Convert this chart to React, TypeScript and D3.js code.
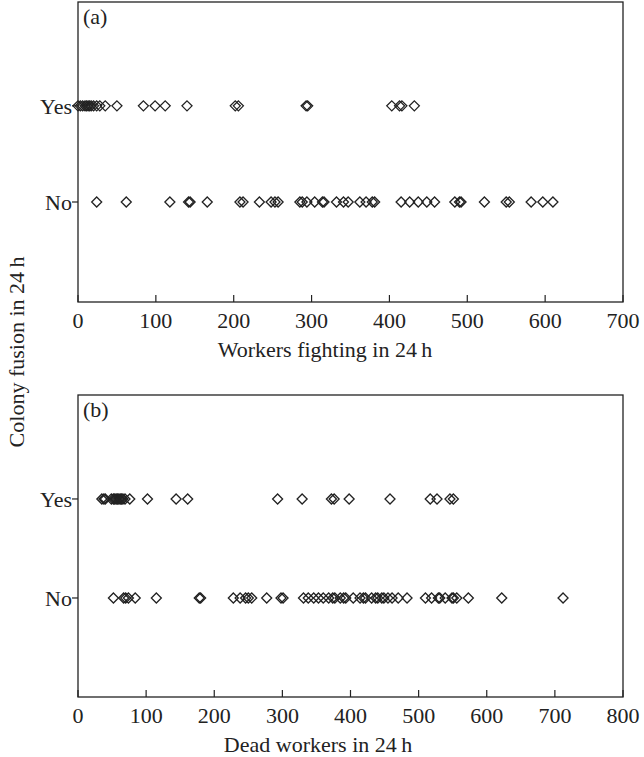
import * as d3 from "d3";
import { useEffect, useRef } from "react";

// (a) workers fighting in 24 h, split by colony fusion
const fightingYes = [0, 3, 6, 9, 11, 13, 15, 17, 20, 24, 28, 35, 50, 84, 99, 112, 140, 202, 206, 293, 295, 403, 413, 416, 432];
const fightingNo = [
  24, 62, 118, 142, 144, 166, 208, 212, 233, 248, 253, 257, 285, 288, 294, 304, 314, 316,
  332, 341, 347, 362, 370, 378, 381, 415, 426, 437, 448, 458, 484, 490, 492, 522, 550, 554,
  582, 597, 610,
];

// (b) dead workers in 24 h
const deadYes = [35, 38, 40, 49, 52, 54, 56, 58, 60, 62, 64, 66, 69, 76, 102, 144, 161, 293, 329, 372, 376, 398, 458, 517, 527, 546, 551];
const deadNo = [
  52, 67, 70, 74, 84, 115, 178, 180, 228, 238, 246, 250, 255, 277, 298, 301, 331, 338, 346,
  353, 360, 368, 374, 377, 385, 390, 393, 404, 414, 419, 422, 431, 437, 440, 446, 449, 455,
  461, 470, 483, 510, 519, 529, 531, 539, 549, 551, 556, 573, 622, 712,
];

const fightingTicks = [0, 100, 200, 300, 400, 500, 600, 700];
const deadTicks = [0, 100, 200, 300, 400, 500, 600, 700, 800];
const rowLabels = ["Yes", "No"];

const W = 644;
const H = 757;
const FONT = "'Liberation Serif', 'Times New Roman', serif";
const FS = 22;
const INK = "#222";

const diamond = "M0,-5L5,0L0,5L-5,0Z";

function drawPanel(svg, o) {
  const x = d3.scaleLinear().domain(o.xDomain).range([o.left, o.right]);
  const y = d3.scaleLinear().domain(o.yDomain).range([o.bottom, o.top]);
  const g = svg.append("g");

  // marks: Yes = 1, No = 0
  const rows = [
    { v: 1, data: o.yes },
    { v: 0, data: o.no },
  ];
  rows.forEach((r) => {
    g.append("g")
      .selectAll("path")
      .data(r.data)
      .enter()
      .append("path")
      .attr("d", diamond)
      .attr("transform", (d) => `translate(${x(d)},${y(r.v)})`)
      .attr("fill", "none")
      .attr("stroke", INK)
      .attr("stroke-width", 1.3);
  });

  // frame
  g.append("rect")
    .attr("x", o.left)
    .attr("y", o.top)
    .attr("width", o.right - o.left)
    .attr("height", o.bottom - o.top)
    .attr("fill", "none")
    .attr("stroke", INK)
    .attr("stroke-width", 1.3);

  // x ticks point inward
  g.selectAll(".xt")
    .data(o.ticks)
    .enter()
    .append("line")
    .attr("x1", (d) => x(d))
    .attr("x2", (d) => x(d))
    .attr("y1", o.bottom)
    .attr("y2", o.bottom - 7)
    .attr("stroke", INK)
    .attr("stroke-width", 1.2);
  g.selectAll(".xl")
    .data(o.ticks)
    .enter()
    .append("text")
    .attr("x", (d) => x(d))
    .attr("y", o.bottom + 26)
    .attr("text-anchor", "middle")
    .text((d) => d);

  // y ticks point outward
  rowLabels.forEach((lab, i) => {
    const yy = y(i === 0 ? 1 : 0);
    g.append("line")
      .attr("x1", o.left - 6)
      .attr("x2", o.left)
      .attr("y1", yy)
      .attr("y2", yy)
      .attr("stroke", INK)
      .attr("stroke-width", 1.2);
    g.append("text")
      .attr("x", o.left - 6)
      .attr("y", yy)
      .attr("dy", "0.35em")
      .attr("text-anchor", "end")
      .text(lab);
  });

  g.append("text")
    .attr("x", o.left + 5)
    .attr("y", o.top + 22)
    .text(o.tag);

  g.append("text")
    .attr("x", o.titleX)
    .attr("y", o.bottom + 55)
    .attr("text-anchor", "middle")
    .text(o.title);
}

const App = () => {
  const svgRef = useRef(null);

  useEffect(() => {
    const svg = d3.select(svgRef.current);
    svg.selectAll("*").remove();
    svg.attr("width", W).attr("height", H);

    drawPanel(svg, {
      left: 78, right: 623, top: 2, bottom: 302,
      xDomain: [0, 700], yDomain: [-1.04, 2.08],
      ticks: fightingTicks, yes: fightingYes, no: fightingNo,
      tag: "(a)", title: "Workers fighting in 24\u2009h", titleX: 325,
    });
    drawPanel(svg, {
      left: 78, right: 623, top: 395, bottom: 697,
      xDomain: [0, 800], yDomain: [-1.0, 2.05],
      ticks: deadTicks, yes: deadYes, no: deadNo,
      tag: "(b)", title: "Dead workers in 24\u2009h", titleX: 318,
    });

    svg.append("text")
      .attr("transform", "translate(24,352) rotate(-90)")
      .attr("text-anchor", "middle")
      .text("Colony fusion in 24\u2009h");
  }, []);

  return (
    <svg
      ref={svgRef}
      style={{ position: "absolute", left: 0, top: 0, background: "#fff" }}
      fontFamily={FONT}
      fontSize={FS}
      fill={INK}
    ></svg>
  );
};

export default App;
